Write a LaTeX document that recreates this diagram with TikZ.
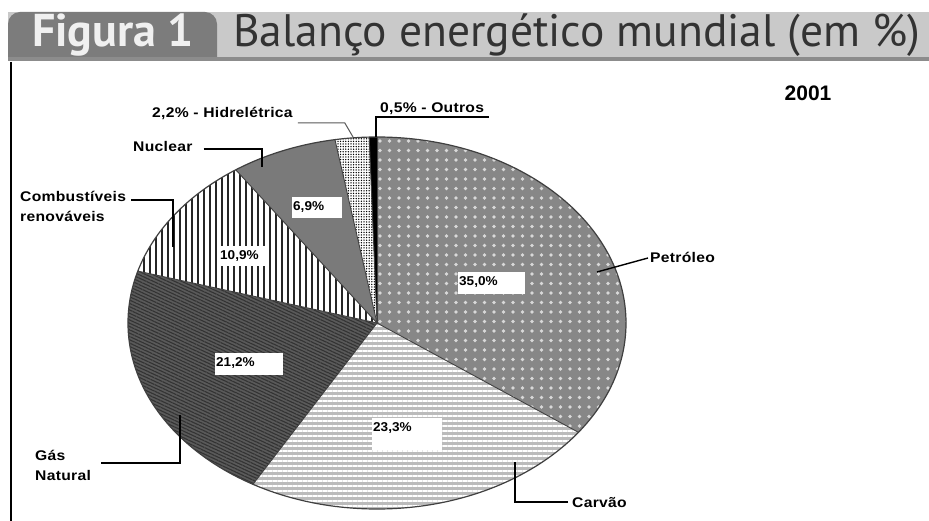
\documentclass[tikz,border=0pt]{standalone}
\usepackage{fontspec}
\setmainfont{Liberation Sans}
\newfontfamily\headfont{PT Sans}
\newfontfamily\lblfont[FakeStretch=1.12, LetterSpace=2]{Liberation Sans}
\newfontfamily\pctfont[FakeStretch=1.06]{Liberation Sans}
\usetikzlibrary{patterns.meta}

\definecolor{tabgray}{HTML}{7C7C7C}
\definecolor{bandgray}{HTML}{C9C9C9}
\definecolor{petrolgray}{HTML}{878787}
\definecolor{coalgray}{HTML}{BBBBBB}
\definecolor{gasgray}{HTML}{5A5A5A}
\definecolor{nucgray}{HTML}{7A7A7A}

\tikzset{
  slice/.style={draw=black!75, line width=0.9pt},
  srctxt/.style={font=\lblfont\bfseries\fontsize{14}{20}\selectfont, inner sep=0pt, align=left},
  pctbg/.style={fill=white, anchor=north west, inner sep=0pt},
  pcttxt/.style={anchor=north west, inner sep=0pt, font=\pctfont\bfseries\fontsize{12.8}{14}\selectfont},
  ldr/.style={draw=black, line width=1.4pt},
  petrol/.style={fill=petrolgray, postaction={pattern={Dots[distance=9.5pt, radius=1.9pt]}, pattern color=white!85!black}},
  coal/.style={fill=coalgray, postaction={pattern={Lines[angle=0, distance=5pt, line width=1.8pt]}, pattern color=white}},
  gas/.style={fill=gasgray, postaction={pattern={Lines[angle=-25, distance=3pt, line width=1.1pt]}, pattern color=black!80}},
  biofuel/.style={fill=white, postaction={pattern={Lines[angle=90, distance=6pt, line width=1.1pt]}, pattern color=black!85}},
  hydro/.style={fill=white, postaction={pattern={Dots[distance=2.6pt, radius=0.75pt]}, pattern color=black}},
}

% white box with its percentage in the top left corner
\newcommand{\pctbox}[5]{%
  \node[pctbg, minimum width=#3, minimum height=#4] (#1) at (#2) {};
  \node[pcttxt] at ([shift={(1,4)}]#1.north west) {#5};}

\begin{document}
\begin{tikzpicture}[x=1pt, y=-1pt]
    \useasboundingbox (0,0) rectangle (929,521);
    \fill[white] (0,0) rectangle (929,521);

    % Title band
    \fill[bandgray] (8,12) rectangle (929,60);
    \fill[tabgray] (8,60) [rounded corners=12pt] -- (8,12) -- (217,12) [sharp corners] -- (217,60) -- cycle;
    \fill[black!45] (8,57) rectangle (929,61);
    \node[anchor=base west, inner sep=0pt, text=white!94!black, font=\headfont\bfseries\fontsize{46}{50}\selectfont] (fig) at (32,47) {Figura 1};
    \node[anchor=base west, inner sep=0pt, text=black!80, font=\headfont\fontsize{45.5}{50}\selectfont] (title) at (233,47) {Balanço energético mundial (em \%)};
    \draw[line width=2pt] (11,62) -- (11,521);

    \node[font=\bfseries\fontsize{21}{24}\selectfont, inner sep=0pt] (year) at (808,93) {2001};

    % Pie (slices clockwise from the top)
    \begin{scope}[shift={(377,323)}, x=249pt, y=186pt]
        \fill[petrol] (0,0) -- (90:1) arc[start angle=90, end angle=-36, radius=1] -- cycle; % petroleo
        \fill[coal] (0,0) -- (-36:1) arc[start angle=-36, end angle=-119.88, radius=1] -- cycle; % carvao
        \fill[gas] (0,0) -- (-119.88:1) arc[start angle=-119.88, end angle=-196.2, radius=1] -- cycle; % gas natural
        \fill[biofuel] (0,0) -- (-196.2:1) arc[start angle=-196.2, end angle=-235.44, radius=1] -- cycle; % combustiveis
        \fill[nucgray] (0,0) -- (-235.44:1) arc[start angle=-235.44, end angle=-260.28, radius=1] -- cycle; % nuclear
        \fill[hydro] (0,0) -- (-260.28:1) arc[start angle=-260.28, end angle=-268.2, radius=1] -- cycle; % hidreletrica
        \fill[black] (0,0) -- (-268.2:1) arc[start angle=-268.2, end angle=-270, radius=1] -- cycle; % outros
        \foreach \a in {90,-36,-119.88,-196.2,-235.44,-260.28,-268.2}
            \draw[slice] (0,0) -- (\a:1);
        \draw[slice, line width=1.2pt] (0,0) circle[radius=1];
    \end{scope}

    % Percentages
    \pctbox{p35}{458,272}{67}{22}{35,0\%}
    \pctbox{p69}{292,197}{50}{21}{6,9\%}
    \pctbox{p109}{219,246}{48}{20}{10,9\%}
    \pctbox{p212}{215,353}{68}{22}{21,2\%}
    \pctbox{p233}{372,418}{70}{32}{23,3\%}

    % Source names and their leaders
    \coordinate (hidroEnd) at (353,137);
    \coordinate (outrosEnd) at (376,137);
    \coordinate (nucEnd) at (262,167);
    \coordinate (combEnd) at (173,247);
    \coordinate (petEnd) at (597,272);
    \coordinate (carvEnd) at (515,462);
    \coordinate (gasEnd) at (180,415);

    \node[srctxt, anchor=base west] (hidro) at (152,118) {2,2\% - Hidrelétrica};
    \node[srctxt, anchor=base west] (outros) at (380,113) {0,5\% - Outros};
    \node[srctxt, anchor=base west] (nuclear) at (133,152) {Nuclear};
    \node[srctxt, anchor=north west] (comb) at (20,191) {Combustíveis\\renováveis};
    \node[srctxt, anchor=base west] (petroleo) at (650,263) {Petróleo};
    \node[srctxt, anchor=base west] (carvao) at (572,507) {Carvão};
    \node[srctxt, anchor=north west] (gas) at (35,450) {Gás\\Natural};

    \draw[draw=black!65, line width=1pt] ([shift={(5,5)}]hidro.base east) -- ++(47,0) -- (hidroEnd);
    \draw[ldr] ([shift={(-5,4)}]outros.base west) -- ([shift={(5,4)}]outros.base east);
    \draw[ldr] ([shift={(-4,4)}]outros.base west) -- (outrosEnd);
    \draw[ldr] ([shift={(11,-3)}]nuclear.base east) -| (nucEnd);
    \draw[ldr] ([shift={(5,-2)}]comb.east |- 0,202) -| (combEnd);
    \draw[ldr] ([shift={(-2,-5)}]petroleo.base west) -- (petEnd);
    \draw[ldr] ([shift={(-4,-5)}]carvao.base west) -| (carvEnd);
    \draw[ldr] ([xshift=10pt]gas.east |- 0,463) -| (gasEnd);

\end{tikzpicture}
\end{document}
